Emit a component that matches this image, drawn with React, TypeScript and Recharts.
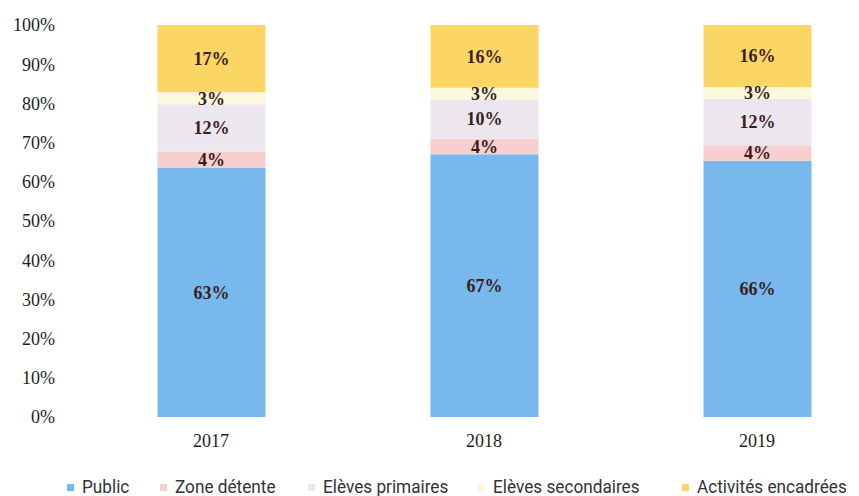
import React from "react";
import { BarChart, Bar, XAxis, YAxis, LabelList } from "recharts";

const years = ["2017", "2018", "2019"];
const publicVals = [63, 67, 66];
const zoneDetente = [4, 4, 4];
const elevesPrimaires = [12, 10, 12];
const elevesSecondaires = [3, 3, 3];
const activitesEncadrees = [17, 16, 16];
const yTicks = [0, 0.1, 0.2, 0.3, 0.4, 0.5, 0.6, 0.7, 0.8, 0.9, 1];

const seriesKeys = ["public", "zone", "primaires", "secondaires", "activites"];
const seriesNames = ["Public", "Zone détente", "Elèves primaires", "Elèves secondaires", "Activités encadrées"];
const seriesColors = ["#78b8ec", "#f7cfcf", "#ece7ef", "#fcf8dc", "#fbd665"];
const legendLefts = [59, 152, 300, 470, 674];

const data = years.map((y, i) => ({
  year: y,
  public: publicVals[i],
  zone: zoneDetente[i],
  primaires: elevesPrimaires[i],
  secondaires: elevesSecondaires[i],
  activites: activitesEncadrees[i],
}));

const serif = "'Liberation Serif', 'DejaVu Serif', serif";
const legendFont = "Roboto, 'Noto Sans', sans-serif";

export default function App() {
  return (
    <div style={{ position: "relative", width: 851, height: 488 }}>
      <BarChart
        width={851}
        height={488}
        data={data}
        stackOffset="expand"
        margin={{ top: 17, right: 0, bottom: 49, left: 0 }}
      >
        <XAxis
          dataKey="year"
          axisLine={false}
          tickLine={false}
          tickMargin={11}
          height={30}
          padding={{ left: 11.5, right: -34.5 }}
          tick={{ fontFamily: serif, fontSize: 18, fill: "#1e1e1e" }}
        />
        <YAxis
          width={55}
          domain={[0, 1]}
          ticks={yTicks}
          axisLine={false}
          tickLine={false}
          interval={0}
          tickFormatter={(v: number) => `${Math.round(v * 100)}%`}
          tick={{ fontFamily: serif, fontSize: 18, fill: "#1e1e1e" }}
        />
        {seriesKeys.map((k, i) => (
          <Bar key={k} dataKey={k} name={seriesNames[i]} stackId="a" fill={seriesColors[i]} barSize={108} isAnimationActive={false}>
            <LabelList
              dataKey={k}
              position="center"
              formatter={(v: number) => `${v}%`}
              style={{ fontFamily: serif, fontSize: 18, fontWeight: "bold", fill: "#3a1e1e" }}
            />
          </Bar>
        ))}
      </BarChart>
      <div style={{ position: "absolute", left: 0, top: 469, width: 851, height: 20, fontFamily: legendFont, fontSize: 18, color: "#333" }}>
        {seriesNames.map((n, i) => (
          <div key={n} style={{ position: "absolute", left: legendLefts[i], top: 0, display: "flex", alignItems: "center", whiteSpace: "nowrap", lineHeight: "20px" }}>
            <span style={{ display: "inline-block", width: 7, height: 7, background: seriesColors[i], marginRight: 8 }} />
            <span style={{ display: "inline-block", transform: "scaleX(0.955)", transformOrigin: "left center" }}>{n}</span>
          </div>
        ))}
      </div>
    </div>
  );
}
